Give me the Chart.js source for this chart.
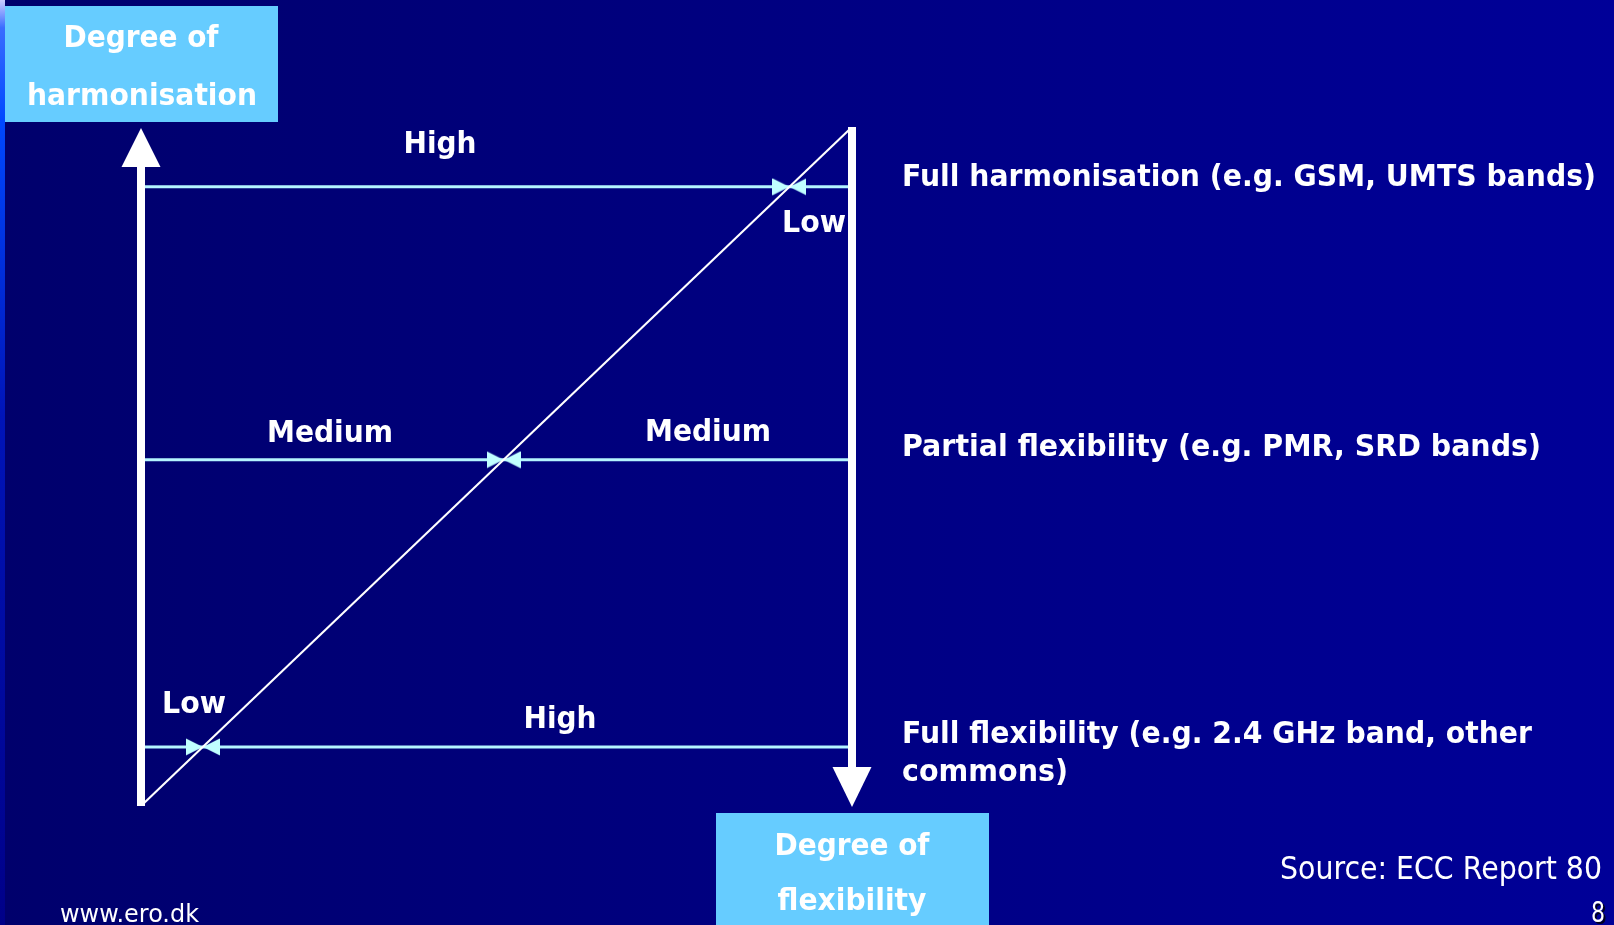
<!DOCTYPE html>
<html><head><meta charset="utf-8">
<script src="https://cdn.jsdelivr.net/npm/chart.js@4/dist/chart.umd.min.js"></script>
<style>html,body{margin:0;padding:0;background:#000080;overflow:hidden}canvas{display:block}</style>
</head><body>
<canvas id="c" width="1614" height="925"></canvas>
<script>
// ---------- data ----------
const levelValues = [91.2, 51.0, 8.7];          // degree of harmonisation of each band class
const leftLabels = ['High', 'Medium', 'Low'];    // harmonisation share
const rightLabels = ['Low', 'Medium', 'High'];   // flexibility share
const levelDescriptions = [
  ['Full harmonisation (e.g. GSM, UMTS bands)'],
  ['Partial flexibility (e.g. PMR, SRD bands)'],
  ['Full flexibility (e.g. 2.4 GHz band, other', 'commons)']
];
const diagonalX = [0, 100];
const diagonalY = [0, 100];
const axisMin = 0, axisMax = 100;
const harmonisationTitle = ['Degree of', 'harmonisation'];
const flexibilityTitle = ['Degree of', 'flexibility'];
const footerLeft = 'www.ero.dk';
const sourceNote = 'Source: ECC Report 80';
const pageNumber = '8';

// ---------- style / layout ----------
const W = 1614, H = 925;
const FONT = '"DejaVu Sans", Verdana, sans-serif';
const LINE_COLOR = '#b4f4ff', ARROW_COLOR = '#c0ffff', BOX_COLOR = '#66ccff';
const labelLayout = [
  { l: { cx: 440, dy: -34, w: 73 }, r: { cx: 814, dy: 45, w: 64 } },
  { l: { cx: 330, dy: -18, w: 126 }, r: { cx: 708, dy: -19, w: 126 } },
  { l: { cx: 194, dy: -34, w: 64 }, r: { cx: 560, dy: -19, w: 73 } }
];
const descLayout = [ { dy: -1, w: [694] }, { dy: -4, w: [639] }, { dy: -4, w: [630, 166] } ];

function fitText(ctx, text, x, y, o) {
  ctx.save();
  ctx.font = `${o.weight || 'bold'} ${o.size}px ${FONT}`;
  const m = ctx.measureText(text).width;
  const sx = o.width ? o.width / m : 1;
  const w = m * sx;
  let left = x;
  if (o.align === 'center') left = x - w / 2; else if (o.align === 'right') left = x - w;
  ctx.translate(left, y);
  ctx.scale(sx, 1);
  ctx.textAlign = 'left';
  ctx.textBaseline = 'alphabetic';
  if (o.shadow) { ctx.fillStyle = o.shadow; ctx.fillText(text, 2 / sx, 2); }
  ctx.fillStyle = o.color || '#ffffff';
  ctx.fillText(text, 0, 0);
  ctx.restore();
}

// bow-tie marker (two arrowheads meeting at the crossing)
const bow = document.createElement('canvas');
bow.width = 34; bow.height = 18;
(function () {
  const b = bow.getContext('2d');
  b.fillStyle = ARROW_COLOR;
  b.beginPath(); b.moveTo(0, 0.5); b.lineTo(17, 9); b.lineTo(0, 17.5); b.closePath(); b.fill();
  b.beginPath(); b.moveTo(34, 0.5); b.lineTo(17, 9); b.lineTo(34, 17.5); b.closePath(); b.fill();
})();

const slopeXY = (diagonalX[1] - diagonalX[0]) / (diagonalY[1] - diagonalY[0]);
const crossings = levelValues.map(v => ({ x: diagonalX[0] + (v - diagonalY[0]) * slopeXY, y: v }));

const datasets = [
  {
    label: 'diagonal', showLine: true, order: 0,
    data: diagonalX.map((x, i) => ({ x, y: diagonalY[i] })),
    borderColor: '#ffffff', borderWidth: 2, pointRadius: 0
  },
  {
    label: 'crossings', order: 1, data: crossings,
    pointStyle: bow, pointRadius: 8, pointHoverRadius: 8
  }
];
levelValues.forEach((v, i) => datasets.push({
  label: 'level' + i, showLine: true, order: 2,
  data: [{ x: axisMin, y: v }, { x: axisMax, y: v }],
  borderColor: LINE_COLOR, borderWidth: 3, pointRadius: 0
}));

const slidePlugin = {
  id: 'slide',
  beforeDraw(chart) {
    const ctx = chart.ctx;
    ctx.save();
    const g = ctx.createLinearGradient(0, 0, W, 0);
    g.addColorStop(0, '#00006c'); g.addColorStop(1, '#000098');
    ctx.fillStyle = g; ctx.fillRect(0, 0, W, H);
    const s = ctx.createLinearGradient(0, 0, 0, H);
    s.addColorStop(0, '#c8ccff'); s.addColorStop(0.03, '#3a6cff'); s.addColorStop(0.13, '#0048ff');
    s.addColorStop(0.45, '#0014b8'); s.addColorStop(1, '#000088');
    ctx.fillStyle = s; ctx.fillRect(0, 0, 5, H);
    ctx.restore();
  },
  afterDatasetsDraw(chart) {
    const ctx = chart.ctx, xs = chart.scales.x, ys = chart.scales.y;
    const xl = xs.getPixelForValue(axisMin), xr = xs.getPixelForValue(axisMax);
    const yb = ys.getPixelForValue(axisMin), yt = ys.getPixelForValue(axisMax);
    ctx.save();
    ctx.fillStyle = '#ffffff';
    // left axis (up arrow)
    ctx.fillRect(xl - 4, yt + 39, 8, yb - yt - 39);
    ctx.beginPath(); ctx.moveTo(xl, yt + 1); ctx.lineTo(xl + 19.5, yt + 40); ctx.lineTo(xl - 19.5, yt + 40); ctx.closePath(); ctx.fill();
    // right axis (down arrow)
    ctx.fillRect(xr - 4, yt, 8, yb - yt - 39);
    ctx.beginPath(); ctx.moveTo(xr, yb + 1); ctx.lineTo(xr + 19.5, yb - 39); ctx.lineTo(xr - 19.5, yb - 39); ctx.closePath(); ctx.fill();
    ctx.restore();

    // labels on the level lines and descriptions
    levelValues.forEach((v, i) => {
      const py = ys.getPixelForValue(v);
      const L = labelLayout[i];
      fitText(ctx, leftLabels[i], L.l.cx, py + L.l.dy, { size: 31, width: L.l.w, align: 'center' });
      fitText(ctx, rightLabels[i], L.r.cx, py + L.r.dy, { size: 31, width: L.r.w, align: 'center' });
      levelDescriptions[i].forEach((t, k) => {
        fitText(ctx, t, 902, py + descLayout[i].dy + k * 38, { size: 31, width: descLayout[i].w[k] });
      });
    });

    // title boxes
    ctx.save();
    ctx.fillStyle = BOX_COLOR;
    ctx.fillRect(5, 6, 273, 116);
    ctx.fillRect(716, 813, 273, 112);
    ctx.restore();
    fitText(ctx, harmonisationTitle[0], 141, 47, { size: 31, width: 155, align: 'center' });
    fitText(ctx, harmonisationTitle[1], 142, 105, { size: 31, width: 230, align: 'center' });
    fitText(ctx, flexibilityTitle[0], 852, 855, { size: 31, width: 155, align: 'center' });
    fitText(ctx, flexibilityTitle[1], 852, 910, { size: 31, width: 149, align: 'center' });

    // footer
    fitText(ctx, footerLeft, 60, 922, { size: 24, weight: 'normal', width: 139 });
    fitText(ctx, sourceNote, 1280, 879, { size: 32, weight: 'normal', width: 322 });
    fitText(ctx, pageNumber, 1591, 922, { size: 28, weight: 'normal', width: 14, shadow: '#000020' });
  }
};

new Chart(document.getElementById('c'), {
  type: 'scatter',
  data: { datasets },
  options: {
    responsive: false, devicePixelRatio: 1, animation: false,
    layout: { padding: { left: 141, right: W - 852, top: 127, bottom: H - 806 } },
    scales: {
      x: { type: 'linear', min: axisMin, max: axisMax, display: false },
      y: { type: 'linear', min: axisMin, max: axisMax, display: false }
    },
    plugins: { legend: { display: false }, tooltip: { enabled: false } },
    events: []
  },
  plugins: [slidePlugin]
});
</script>
</body></html>
